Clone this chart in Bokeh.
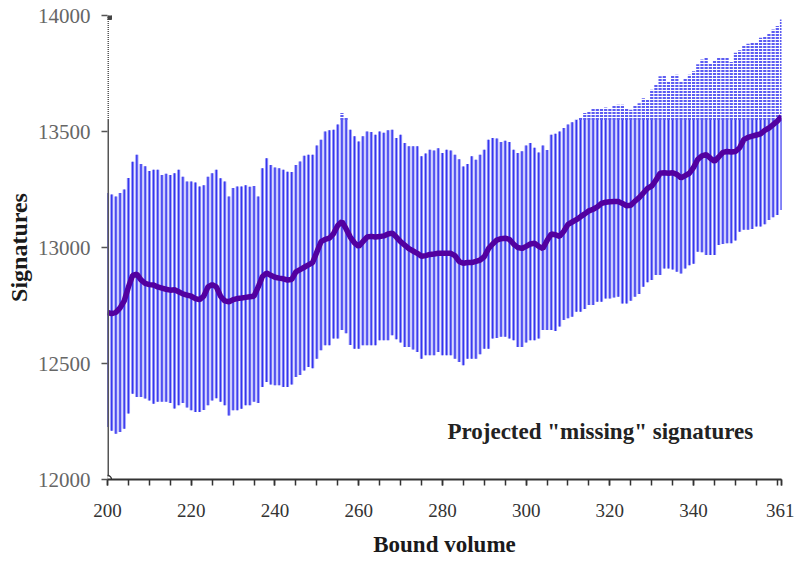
import numpy as np
from bokeh.plotting import figure
from bokeh.models import Range1d, FixedTicker, Label, ColumnDataSource
from bokeh.embed import file_html
from bokeh.resources import INLINE

# ---------------- data ----------------
volume = list(range(200, 362))

mean_sig = [
    12720, 12715, 12720, 12740, 12770, 12830, 12880, 12885, 12860, 12845,  # 200-209
    12840, 12838, 12830, 12825, 12820, 12816, 12818, 12809, 12800, 12795,  # 210-219
    12790, 12780, 12775, 12790, 12830, 12840, 12830, 12790, 12770, 12766,  # 220-229
    12775, 12780, 12782, 12785, 12788, 12790, 12830, 12875, 12890, 12880,  # 230-239
    12872, 12868, 12865, 12860, 12862, 12895, 12905, 12915, 12925, 12935,  # 240-249
    12980, 13025, 13035, 13040, 13060, 13095, 13112, 13080, 13045, 13020,  # 250-259
    13005, 13025, 13045, 13048, 13045, 13047, 13050, 13058, 13062, 13045,  # 260-269
    13025, 13010, 12995, 12985, 12975, 12962, 12965, 12970, 12972, 12975,  # 270-279
    12975, 12975, 12975, 12965, 12940, 12932, 12935, 12935, 12940, 12946,  # 280-289
    12960, 12995, 13015, 13032, 13038, 13040, 13035, 13015, 13000, 12996,  # 290-299
    13005, 13015, 13018, 13005, 12996, 13030, 13058, 13055, 13048, 13070,  # 300-309
    13100, 13110, 13120, 13133, 13145, 13158, 13165, 13175, 13190, 13195,  # 310-319
    13197, 13198, 13198, 13190, 13180, 13182, 13200, 13215, 13235, 13255,  # 320-329
    13265, 13290, 13320, 13322, 13320, 13322, 13315, 13300, 13310, 13320,  # 330-339
    13345, 13380, 13395, 13400, 13385, 13372, 13390, 13410, 13414, 13412,  # 340-349
    13414, 13430, 13465, 13475, 13480, 13485, 13490, 13505, 13515, 13530,  # 350-359
    13545, 13565,                                                          # 360-361
]

upper_sig = [
    13235, 13228, 13220, 13235, 13250, 13300, 13370, 13400, 13360, 13350,
    13330, 13335, 13335, 13313, 13318, 13313, 13320, 13335, 13305, 13285,
    13285, 13280, 13263, 13268, 13305, 13320, 13335, 13299, 13285, 13220,
    13256, 13263, 13263, 13268, 13262, 13265, 13220, 13342, 13385, 13356,
    13345, 13342, 13335, 13327, 13325, 13356, 13371, 13395, 13400, 13400,
    13440, 13464, 13500, 13505, 13508, 13530, 13580, 13560, 13508, 13479,
    13457, 13480, 13500, 13498, 13486, 13500, 13495, 13505, 13508, 13472,
    13486, 13450, 13436, 13436, 13436, 13393, 13405, 13421, 13418, 13428,
    13407, 13421, 13418, 13400, 13380, 13349, 13360, 13393, 13378, 13400,
    13421, 13464, 13472, 13470, 13455, 13460, 13455, 13421, 13407, 13415,
    13440, 13450, 13430, 13410, 13440, 13420, 13486, 13490, 13500, 13515,
    13530, 13540, 13551, 13560, 13580, 13585, 13601, 13600, 13601, 13603,
    13601, 13612, 13615, 13615, 13600, 13594, 13610, 13622, 13643, 13640,
    13680, 13702, 13738, 13740, 13716, 13740, 13745, 13716, 13730, 13745,
    13760, 13790, 13810, 13817, 13795, 13805, 13817, 13820, 13817, 13800,
    13839, 13850, 13868, 13878, 13882, 13882, 13904, 13910, 13920, 13940,
    13955, 13983,
]

lower_sig = [
    12226, 12210, 12197, 12205, 12219, 12284, 12370, 12356, 12356, 12349,
    12340, 12327, 12335, 12335, 12335, 12330, 12306, 12320, 12330, 12310,
    12298, 12291, 12291, 12300, 12320, 12341, 12350, 12335, 12320, 12276,
    12298, 12298, 12305, 12320, 12320, 12335, 12330, 12399, 12420, 12410,
    12406, 12406, 12399, 12399, 12410, 12442, 12450, 12470, 12485, 12480,
    12520, 12557, 12579, 12579, 12608, 12608, 12644, 12630, 12580, 12564,
    12564, 12579, 12579, 12579, 12579, 12600, 12600, 12600, 12622, 12605,
    12590, 12571, 12571, 12560, 12550, 12521, 12536, 12536, 12536, 12550,
    12536, 12536, 12536, 12520, 12507, 12492, 12521, 12521, 12521, 12540,
    12564, 12564, 12608, 12610, 12615, 12615, 12608, 12600, 12571, 12571,
    12590, 12600, 12600, 12608, 12644, 12644, 12644, 12640, 12660, 12687,
    12695, 12701, 12723, 12723, 12735, 12752, 12752, 12766, 12766, 12780,
    12780, 12785, 12788, 12759, 12759, 12770, 12788, 12800, 12831, 12850,
    12860, 12881, 12881, 12910, 12910, 12905, 12895, 12888, 12910, 12924,
    12930, 12982, 12980, 12968, 12968, 12968, 13011, 13015, 13018, 13018,
    13030, 13068, 13076, 13076, 13080, 13090, 13090, 13100, 13119, 13130,
    13140, 13162,
]

x_tick_labels = [200, 220, 240, 260, 280, 300, 320, 340, 361]
y_tick_values = [12000, 12500, 13000, 13500, 14000]

# ---------------- styling constants ----------------
CLIP = 13550          # level above which the original rendering is hatched
X0, X1 = 200, 361
Y0, Y1 = 12000, 14000
SERIF = "Liberation Serif"

x = np.array(volume, dtype=float)
lo = np.array(lower_sig, dtype=float)
hi = np.array(upper_sig, dtype=float)
solid_top = np.minimum(hi, CLIP)
over = hi > CLIP

p = figure(width=794, height=559, output_backend="svg", toolbar_location=None,
           x_range=Range1d(X0, X1), y_range=Range1d(Y0, Y1),
           min_border_left=107, min_border_right=13, min_border_top=15,
           min_border_bottom=80)
p.outline_line_color = None
p.grid.grid_line_color = None
p.background_fill_color = "white"
p.border_fill_color = "white"

# error bars (two-tone like the original)
src = ColumnDataSource(dict(x=x, lo=lo, top=solid_top))
p.segment(x0="x", y0="lo", x1="x", y1="top", source=src,
          line_color="#9c9cf9", line_width=3.2)
p.segment(x0="x", y0="lo", x1="x", y1="top", source=src,
          line_color="#3434ee", line_width=1.3)
src2 = ColumnDataSource(dict(x=x[over], lo=np.full(over.sum(), CLIP), top=hi[over]))
p.segment(x0="x", y0="lo", x1="x", y1="top", source=src2,
          line_color="#5c5cf2", line_width=3.2, line_dash="2 1")

# mean line
p.line(x, mean_sig, line_color="#5300a0", line_width=5.5)

# y axis line: solid then dotted
p.segment(x0=[X0], y0=[Y0], x1=[X0], y1=[CLIP], line_color="#555555", line_width=3)
p.segment(x0=[X0], y0=[CLIP], x1=[X0], y1=[Y1], line_color="#555555",
          line_width=3, line_dash="1 1")

# axes
xa = p.xaxis[0]
xa.ticker = FixedTicker(ticks=x_tick_labels, minor_ticks=list(range(200, 361, 5)) + [361])
xa.axis_line_color = "#333333"
xa.axis_line_width = 2
xa.major_tick_line_color = "#333333"
xa.major_tick_line_width = 1.5
xa.major_tick_out = 6
xa.major_tick_in = 0
xa.minor_tick_line_color = "#333333"
xa.minor_tick_line_width = 1.5
xa.minor_tick_out = 6
xa.minor_tick_in = 0
xa.major_label_text_font = SERIF
xa.major_label_text_font_size = "19px"
xa.major_label_text_color = "#333333"
xa.major_label_standoff = 18
xa.axis_label = "Bound volume"
xa.axis_label_text_font = SERIF
xa.axis_label_text_font_style = "bold"
xa.axis_label_text_font_size = "23px"
xa.axis_label_text_color = "#1a1a1a"
xa.axis_label_standoff = 12

ya = p.yaxis[0]
ya.ticker = FixedTicker(ticks=y_tick_values, minor_ticks=[])
ya.axis_line_color = None
ya.major_tick_line_color = "#555555"
ya.major_tick_line_width = 1.5
ya.major_tick_out = 6
ya.major_tick_in = 0
ya.minor_tick_line_color = None
ya.major_label_text_font = SERIF
ya.major_label_text_font_size = "21px"
ya.major_label_text_color = "#666666"
ya.major_label_standoff = 11
ya.axis_label = "Signatures"
ya.axis_label_text_font = SERIF
ya.axis_label_text_font_style = "bold"
ya.axis_label_text_font_size = "24px"
ya.axis_label_text_color = "#1a1a1a"
ya.axis_label_standoff = 3

# small axis-end markers seen in the original
p.scatter(x=[X0], y=[Y0], marker="circle", size=8, fill_color="white",
          line_color="#333333", line_width=1.5)
p.scatter(x=[X0], y=[Y1], marker="square", size=8, fill_color="#444444",
          line_color="#444444")

p.add_layout(Label(x=281.2, y=12205, text='Projected "missing" signatures',
                   text_font=SERIF, text_font_style="bold", text_font_size="23px",
                   text_color="#222222", text_baseline="middle", text_align="left"))

open("out.html", "w").write(file_html(p, INLINE))
